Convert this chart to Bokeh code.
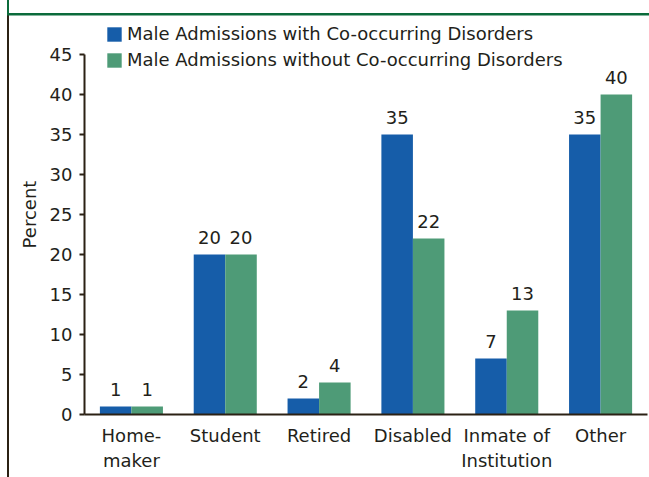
from bokeh.plotting import figure
from bokeh.models import ColumnDataSource, LabelSet, Legend, LegendItem, FixedTicker
from bokeh.core.properties import value
from bokeh.transform import dodge
from bokeh.embed import file_html
from bokeh.resources import INLINE

categories = ["Home-\nmaker", "Student", "Retired", "Disabled", "Inmate of\nInstitution", "Other"]
with_cod = [1, 20, 2, 35, 7, 35]
without_cod = [1, 20, 4, 22, 13, 40]
series_names = ["Male Admissions with Co-occurring Disorders",
                "Male Admissions without Co-occurring Disorders"]
y_ticks = [0, 5, 10, 15, 20, 25, 30, 35, 40, 45]

BLUE = "#165DA9"
GREEN = "#4E9B77"
DARK = "#2B2114"
TEXT = "#231F1A"
FRAME_GREEN = "#0B6B3B"
FONT = "DejaVu Sans"

src = ColumnDataSource(dict(cat=categories, w=with_cod, wo=without_cod,
                            wl=[str(v) for v in with_cod], wol=[str(v) for v in without_cod]))

p = figure(x_range=categories, y_range=(0, 50), width=649, height=477,
           output_backend="svg", toolbar_location=None,
           min_border_left=84, min_border_right=2, min_border_top=14, min_border_bottom=63)
p.x_range.range_padding = 0
p.outline_line_color = None
p.xgrid.grid_line_color = None
p.ygrid.grid_line_color = None
p.background_fill_color = None
p.border_fill_color = None
p.styles = {
    "background": (
        f"linear-gradient({FRAME_GREEN},{FRAME_GREEN}) 7px 0px / 2px 15px no-repeat, "
        f"linear-gradient({FRAME_GREEN},{FRAME_GREEN}) 7px 12.5px / 642px 2.5px no-repeat, "
        f"linear-gradient({DARK},{DARK}) 7px 15px / 2px 462px no-repeat, #ffffff"
    )
}

bw = 0.336
r1 = p.vbar(x=dodge("cat", -bw / 2, range=p.x_range), top="w", width=bw, source=src,
            fill_color=BLUE, line_color=None)
r2 = p.vbar(x=dodge("cat", bw / 2, range=p.x_range), top="wo", width=bw, source=src,
            fill_color=GREEN, line_color=None)

for field, lab, off in (("w", "wl", -bw / 2), ("wo", "wol", bw / 2)):
    p.add_layout(LabelSet(x=dodge("cat", off, range=p.x_range), y=field, text=lab, source=src,
                          text_align="center", text_baseline="alphabetic", y_offset=11,
                          text_font=value(FONT), text_font_size="18px", text_color=TEXT))

# axes
p.yaxis.ticker = FixedTicker(ticks=y_ticks)
p.yaxis.bounds = (0, 45)
p.yaxis.minor_tick_line_color = None
p.yaxis.major_tick_out = 5
p.yaxis.major_tick_in = 0
p.yaxis.major_tick_line_width = 2
p.yaxis.major_tick_line_color = DARK
p.yaxis.axis_line_width = 2
p.yaxis.axis_line_color = DARK
p.yaxis.major_label_standoff = 7
p.yaxis.axis_label = "Percent"
p.yaxis.axis_label_standoff = 7
p.yaxis.axis_label_text_font_style = "normal"

p.xaxis.major_tick_line_color = None
p.xaxis.minor_tick_line_color = None
p.xaxis.axis_line_width = 2
p.xaxis.axis_line_color = DARK
p.xaxis.major_label_standoff = 4

for ax in (p.xaxis, p.yaxis):
    ax.major_label_text_font = FONT
    ax.major_label_text_font_size = "18px"
    ax.major_label_text_color = TEXT
    ax.axis_label_text_font = FONT
    ax.axis_label_text_font_size = "18px"
    ax.axis_label_text_color = TEXT

legend = Legend(items=[LegendItem(label=series_names[0], renderers=[r1]),
                       LegendItem(label=series_names[1], renderers=[r2])],
                location=(21, 344), orientation="vertical",
                padding=0, margin=0, spacing=5, border_line_color=None,
                background_fill_alpha=0, label_text_font=FONT, label_text_font_size="18px",
                label_text_color=TEXT, glyph_width=18, glyph_height=18, label_height=20,
                label_standoff=4)
p.add_layout(legend, "center")

open("out.html", "w").write(file_html(p, INLINE))
